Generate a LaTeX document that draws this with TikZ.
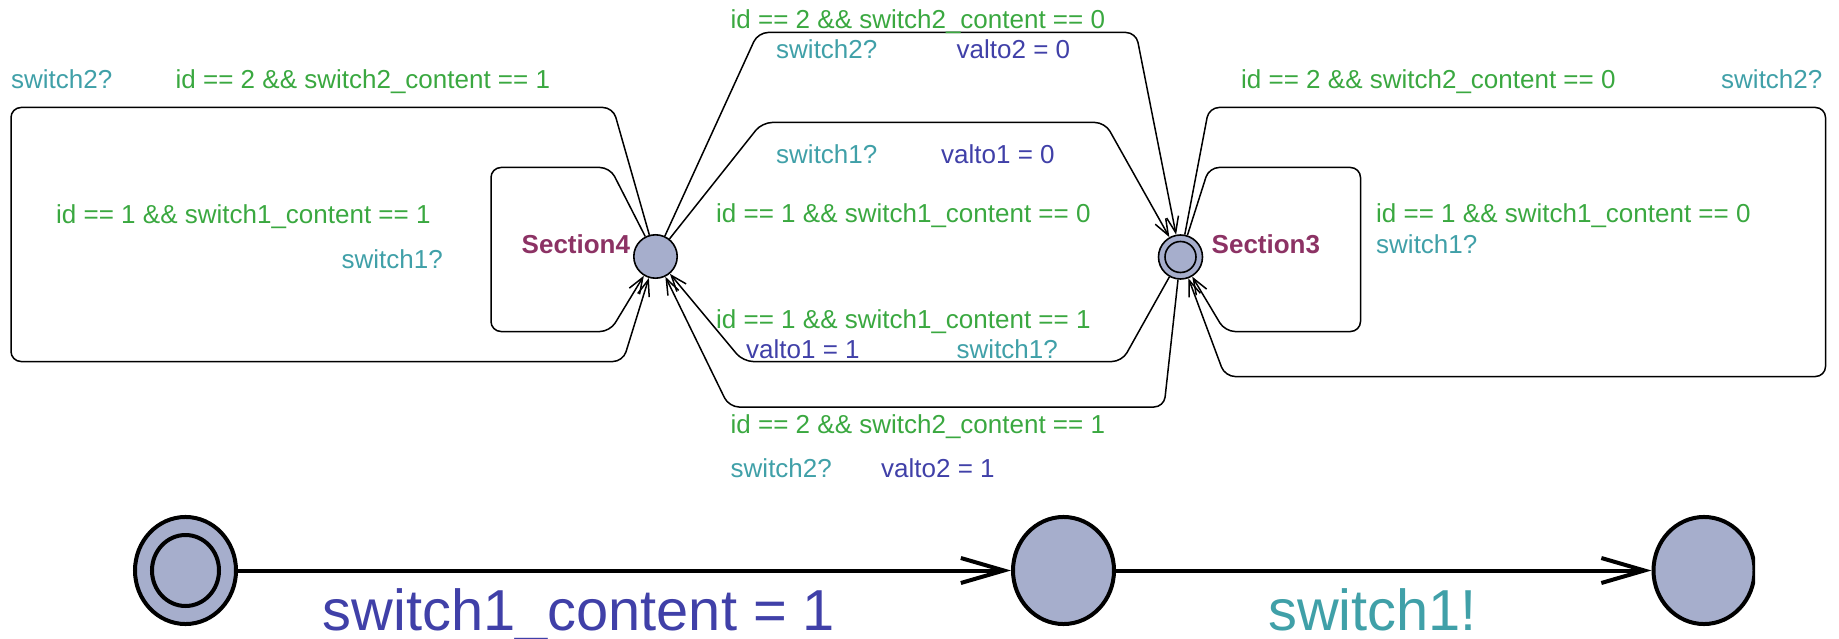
\documentclass[tikz,border=0pt]{standalone}
\usepackage{fontspec}
\setmainfont{Liberation Sans}
\usetikzlibrary{arrows.meta,shapes.geometric}

\definecolor{guardc}{RGB}{58,168,64}
\definecolor{syncc}{RGB}{64,160,168}
\definecolor{assignc}{RGB}{64,64,168}
\definecolor{namec}{RGB}{140,50,100}
\definecolor{locfill}{RGB}{166,174,204}

\newcommand\lblfont{\fontsize{26pt}{30pt}\selectfont}
\newcommand\bigfont{\fontsize{57.8pt}{66pt}\selectfont}

\tikzset{
  lbl/.style={anchor=base west, inner sep=0pt, font=\lblfont},
  guard/.style={lbl, text=guardc},
  sync/.style={lbl, text=syncc},
  assign/.style={lbl, text=assignc},
  locname/.style={lbl, text=namec, font=\lblfont\bfseries},
  smallloc/.style={circle, draw=black, line width=1.6pt, fill=locfill,
    inner sep=0pt, minimum size=#1},
  bigloc/.style={ellipse, draw=black, line width=4pt, fill=locfill,
    inner sep=0pt, minimum width=#1, minimum height=#1*1.06},
  edge/.style={draw=black, line width=1.5pt, rounded corners=10pt,
    -{Straight Barb[length=16pt, width=12pt]}},
  bigedge/.style={draw=black, line width=4pt,
    -{Straight Barb[length=43pt, width=25pt]}},
  biglbl/.style={anchor=base west, inner sep=0pt, font=\bigfont}
}

\begin{document}
\begin{tikzpicture}[x=1pt, y=-1pt]
\useasboundingbox (0,0) rectangle (1839,639);

% --- upper automaton: two locations ---
\node[smallloc=43.4pt] (S4) at (655.5,256.5) {};
\node[smallloc=44pt] (S3) at (1180.5,257) {};
\node[circle, draw=black, line width=1.6pt, inner sep=0pt, minimum size=31pt] (S3i) at (S3) {};

\node[locname] (n4) at (521.5,253.5) {Section4};
\node[locname] (n3) at (1211.5,253.5) {Section3};

% self loops on Section4
\draw[edge] (S4) -- (613,107.5) -- (11,107.5) -- (11,361.5) -- (623,361.5) -- (S4);
\draw[edge] (S4) -- (610,167.5) -- (491,167.5) -- (491,331.5) -- (610,331.5) -- (S4);

% self loops on Section3
\draw[edge] (S3) -- (1209,107.5) -- (1825.5,107.5) -- (1825.5,376.5) -- (1225,376.5) -- (S3);
\draw[edge] (S3) -- (1209,167.5) -- (1360.5,167.5) -- (1360.5,331.5) -- (1225,331.5) -- (S3);

% transitions between the two sections
\draw[edge] (S4) -- (758,32.5) -- (1136,32.5) -- (S3);
\draw[edge] (S4) -- (762,122.5) -- (1105,122.5) -- (S3);
\draw[edge] (S3) -- (1122,361.5) -- (743,361.5) -- (S4);
\draw[edge] (S3) -- (1164,407) -- (729,407) -- (S4);

% labels of the Section4 loops
\node[sync]  (l1) at (11,89) {switch2?};
\node[guard] (l2) at (175.5,89) {id == 2 \&\& switch2\_content == 1};
\node[guard] (l3) at (56,223) {id == 1 \&\& switch1\_content == 1};
\node[sync]  (l4) at (341.5,268) {switch1?};

% labels of the middle transitions
\node[guard]  (m1) at (730.5,28.5) {id == 2 \&\& switch2\_content == 0};
\node[sync]   (m2) at (776,58.5) {switch2?};
\node[assign] (m3) at (956.5,58.5) {valto2 = 0};
\node[sync]   (m4) at (776,163.5) {switch1?};
\node[assign] (m5) at (941,163.5) {valto1 = 0};
\node[guard]  (m6) at (716,222.5) {id == 1 \&\& switch1\_content == 0};
\node[guard]  (m7) at (716,328.5) {id == 1 \&\& switch1\_content == 1};
\node[assign] (m8) at (746,358.5) {valto1 = 1};
\node[sync]   (m9) at (956.5,358.5) {switch1?};
\node[guard]  (m10) at (730.5,433.5) {id == 2 \&\& switch2\_content == 1};
\node[sync]   (m11) at (730.5,477) {switch2?};
\node[assign] (m12) at (881,477) {valto2 = 1};

% labels of the Section3 loops
\node[guard] (r1) at (1241,88.5) {id == 2 \&\& switch2\_content == 0};
\node[sync]  (r2) at (1721,88.5) {switch2?};
\node[guard] (r3) at (1376,222.5) {id == 1 \&\& switch1\_content == 0};
\node[sync]  (r4) at (1376,253.5) {switch1?};

% --- lower automaton ---
\node[bigloc=101pt] (B0) at (185.5,570.5) {};
\node[ellipse, draw=black, line width=4pt, inner sep=0pt,
      minimum width=67pt, minimum height=71pt] (B0i) at (B0) {};
\node[bigloc=101pt] (B1) at (1063.5,570.5) {};
\begin{scope}
  \clip (0,0) rectangle (1755,639);
  \node[bigloc=101pt] (B2) at (1704,570.5) {};
\end{scope}

\draw[bigedge] (B0) -- (B1);
\draw[bigedge] (B1) -- (B2);

\node[biglbl, text=assignc] (b1) at (322.5,630) {switch1\_content = 1};
\node[biglbl, text=syncc]   (b2) at (1268,630) {switch1!};
\end{tikzpicture}
\end{document}
